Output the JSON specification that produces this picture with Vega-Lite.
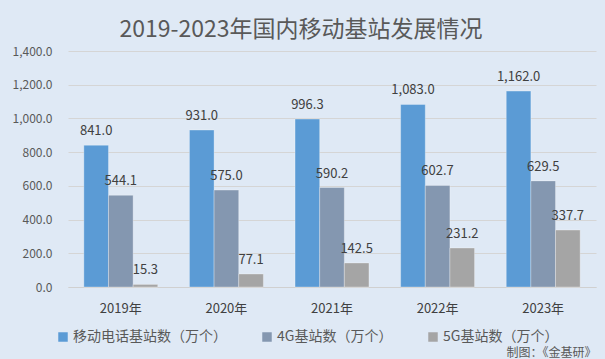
{
  "$schema": "https://vega.github.io/schema/vega-lite/v6.json",
  "width": 528,
  "height": 236,
  "autosize": {"type": "none"},
  "padding": {"left": 68, "top": 51, "right": 9, "bottom": 72},
  "background": "#dfe9f5",
  "config": {
    "font": "Noto Sans CJK SC",
    "view": {"stroke": null}
  },
  "title": {
    "text": "2019-2023年国内移动基站发展情况",
    "fontSize": 23,
    "fontWeight": "normal",
    "color": "#595959",
    "anchor": "middle",
    "dx": -31,
    "offset": 3
  },
  "data": {
    "values": [
      {"year": "2019年", "series": "移动电话基站数（万个）", "value": 841.0},
      {"year": "2019年", "series": "4G基站数（万个）", "value": 544.1},
      {"year": "2019年", "series": "5G基站数（万个）", "value": 15.3},
      {"year": "2020年", "series": "移动电话基站数（万个）", "value": 931.0},
      {"year": "2020年", "series": "4G基站数（万个）", "value": 575.0},
      {"year": "2020年", "series": "5G基站数（万个）", "value": 77.1},
      {"year": "2021年", "series": "移动电话基站数（万个）", "value": 996.3},
      {"year": "2021年", "series": "4G基站数（万个）", "value": 590.2},
      {"year": "2021年", "series": "5G基站数（万个）", "value": 142.5},
      {"year": "2022年", "series": "移动电话基站数（万个）", "value": 1083.0},
      {"year": "2022年", "series": "4G基站数（万个）", "value": 602.7},
      {"year": "2022年", "series": "5G基站数（万个）", "value": 231.2},
      {"year": "2023年", "series": "移动电话基站数（万个）", "value": 1162.0},
      {"year": "2023年", "series": "4G基站数（万个）", "value": 629.5},
      {"year": "2023年", "series": "5G基站数（万个）", "value": 337.7}
    ]
  },
  "encoding": {
    "x": {
      "field": "year", "type": "nominal",
      "scale": {"paddingInner": 0.3, "paddingOuter": 0.15},
      "axis": {
        "title": "制图：《金基研》",
        "titleAnchor": "end",
        "titleFontSize": 12,
        "titleFontWeight": "normal",
        "titleColor": "#595959",
        "titlePadding": 32,
        "labelAngle": 0,
        "labelFontSize": 13,
        "labelColor": "#404040",
        "labelPadding": 15,
        "ticks": false,
        "domainColor": "#d0d0d0"
      }
    },
    "xOffset": {
      "field": "series", "type": "nominal",
      "sort": ["移动电话基站数（万个）", "4G基站数（万个）", "5G基站数（万个）"],
      "scale": {"paddingInner": 0, "paddingOuter": 0}
    },
    "y": {
      "field": "value", "type": "quantitative",
      "scale": {"domain": [0, 1400]},
      "axis": {
        "title": null,
        "values": [0, 200, 400, 600, 800, 1000, 1200, 1400],
        "labelOverlap": false,
        "format": ",.1f",
        "labelFontSize": 12,
        "labelColor": "#595959",
        "labelPadding": 16,
        "domain": false,
        "ticks": false,
        "gridColor": "#d5d5d5"
      }
    }
  },
  "layer": [
    {
      "mark": {"type": "bar", "stroke": "#ffffff", "strokeWidth": 0.5, "strokeOpacity": 0.6},
      "encoding": {
        "color": {
          "field": "series", "type": "nominal",
          "sort": ["移动电话基站数（万个）", "4G基站数（万个）", "5G基站数（万个）"],
          "scale": {"range": ["#5b9bd5", "#8497b0", "#a5a5a5"]},
          "legend": {
            "title": null,
            "orient": "none",
            "direction": "horizontal",
            "legendX": -12,
            "legendY": 279,
            "symbolType": "square",
            "symbolSize": 90,
            "symbolStrokeWidth": 0,
            "labelFontSize": 14,
            "labelColor": "#595959",
            "labelOffset": 3,
            "columnPadding": 33
          }
        }
      }
    },
    {
      "mark": {"type": "text", "baseline": "bottom", "dy": -7, "fontSize": 13, "color": "#404040"},
      "encoding": {
        "text": {"field": "value", "type": "quantitative", "format": ",.1f"}
      }
    }
  ]
}
